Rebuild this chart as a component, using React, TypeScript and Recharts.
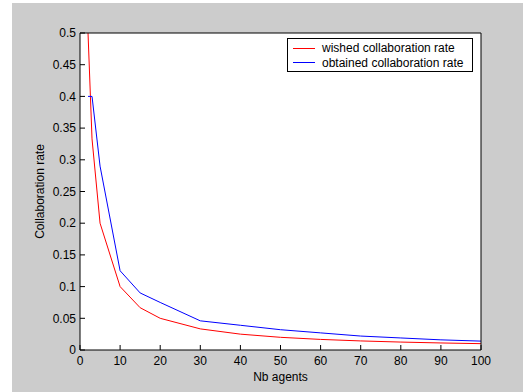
import React from 'react';
import { LineChart, Line, XAxis, YAxis, CartesianGrid, Legend } from 'recharts';

const nAgents = [2, 3, 5, 10, 15, 20, 30, 40, 50, 60, 70, 80, 90, 100];
const wishedRate = [0.5, 0.333, 0.2, 0.1, 0.0667, 0.05, 0.0333, 0.025, 0.02, 0.0167, 0.0143, 0.0125, 0.0111, 0.01];
const obtainedRate = [0.4, 0.4, 0.29, 0.125, 0.09, 0.075, 0.046, 0.039, 0.032, 0.027, 0.022, 0.019, 0.016, 0.014];

const xTicks = [0, 10, 20, 30, 40, 50, 60, 70, 80, 90, 100];
const yTicks = [0, 0.05, 0.1, 0.15, 0.2, 0.25, 0.3, 0.35, 0.4, 0.45, 0.5];

const seriesNames = ['wished collaboration rate', 'obtained collaboration rate'];
const seriesColors = ['#ff0000', '#0000ff'];

const data = nAgents.map((n, i) => ({ n, wished: wishedRate[i], obtained: obtainedRate[i] }));

const FONT = '"Liberation Sans", Arial, Helvetica, sans-serif';

const LegendBox = (props: any) => {
  const payload = [...(props.payload || [])].sort(
    (a: any, b: any) => seriesNames.indexOf(a.value) - seriesNames.indexOf(b.value)
  );
  return (
    <div
      style={{
        position: 'relative',
        width: 186,
        height: 34,
        boxSizing: 'border-box',
        border: '1px solid #000',
        background: '#fff',
        fontFamily: FONT,
        fontSize: 12,
        color: '#000',
      }}
    >
      {payload.map((p: any, i: number) => (
        <div key={i} style={{ position: 'absolute', left: 0, top: 2 + i * 14.6, height: 14, width: '100%' }}>
          <div style={{ position: 'absolute', left: 5, top: 6.5, width: 22, height: 1, background: p.color }} />
          <span style={{ position: 'absolute', left: 34, top: 0, lineHeight: '14px', whiteSpace: 'nowrap' }}>{p.value}</span>
        </div>
      ))}
    </div>
  );
};

const YLabel = (props: any) => {
  const vb = props.viewBox;
  const cx = vb.x + 3.5;
  const cy = vb.y + vb.height / 2;
  return (
    <text x={cx} y={cy} transform={`rotate(-90, ${cx}, ${cy})`} textAnchor="middle" fontFamily={FONT} fontSize={12} fill="#000">
      Collaboration rate
    </text>
  );
};

const XLabel = (props: any) => {
  const vb = props.viewBox;
  const cx = vb.x + vb.width / 2;
  const cy = vb.y + 31;
  return (
    <text x={cx} y={cy} textAnchor="middle" fontFamily={FONT} fontSize={12} fill="#000">
      Nb agents
    </text>
  );
};

export default function App() {
  return (
    <div style={{ position: 'absolute', left: 0, top: 0, width: 523, height: 392, background: '#fff', overflow: 'hidden' }}>
      <div style={{ position: 'absolute', left: 12, top: 3, width: 511, height: 389, background: '#cccccc' }} />
      <div style={{ position: 'absolute', left: 0, top: 0 }}>
        <LineChart width={523} height={392} data={data} margin={{ top: 32, right: 41, bottom: 12, left: 40 }}>
          <CartesianGrid horizontal={false} vertical={false} fill="#ffffff" xAxisId="bottom" yAxisId="left" />
          <XAxis
            xAxisId="bottom"
            dataKey="n"
            type="number"
            domain={[0, 100]}
            ticks={xTicks}
            height={30}
            tickSize={-5}
            tickMargin={11}
            stroke="#000"
            tick={{ fill: '#000', fontFamily: FONT, fontSize: 12 }}
            tickLine={{ stroke: '#000' }}
            axisLine={{ stroke: '#000' }}
            label={<XLabel />}
            interval={0}
          />
          <XAxis
            xAxisId="top"
            orientation="top"
            dataKey="n"
            type="number"
            domain={[0, 100]}
            ticks={xTicks}
            height={1}
            tickSize={-5}
            tick={false}
            stroke="#000"
            interval={0}
          />
          <YAxis
            yAxisId="left"
            type="number"
            domain={[0, 0.5]}
            ticks={yTicks}
            width={40}
            tickSize={-5}
            tickMargin={9}
            stroke="#000"
            tick={{ fill: '#000', fontFamily: FONT, fontSize: 12 }}
            tickLine={{ stroke: '#000' }}
            axisLine={{ stroke: '#000' }}
            label={<YLabel />}
            interval={0}
          />
          <YAxis
            yAxisId="right"
            orientation="right"
            type="number"
            domain={[0, 0.5]}
            ticks={yTicks}
            width={1}
            tickSize={-5}
            tick={false}
            stroke="#000"
            interval={0}
          />
          <Legend
            layout="vertical"
            align="center"
            verticalAlign="middle"
            content={<LegendBox />}
            wrapperStyle={{ left: 287, top: 38, width: 186, height: 34, right: 'auto', bottom: 'auto' }}
          />
          <Line
            xAxisId="bottom"
            yAxisId="left"
            type="linear"
            dataKey="wished"
            name={seriesNames[0]}
            stroke={seriesColors[0]}
            strokeWidth={1}
            dot={false}
            activeDot={false}
            isAnimationActive={false}
          />
          <Line
            xAxisId="bottom"
            yAxisId="left"
            type="linear"
            dataKey="obtained"
            name={seriesNames[1]}
            stroke={seriesColors[1]}
            strokeWidth={1}
            dot={false}
            activeDot={false}
            isAnimationActive={false}
          />
        </LineChart>
      </div>
    </div>
  );
}
